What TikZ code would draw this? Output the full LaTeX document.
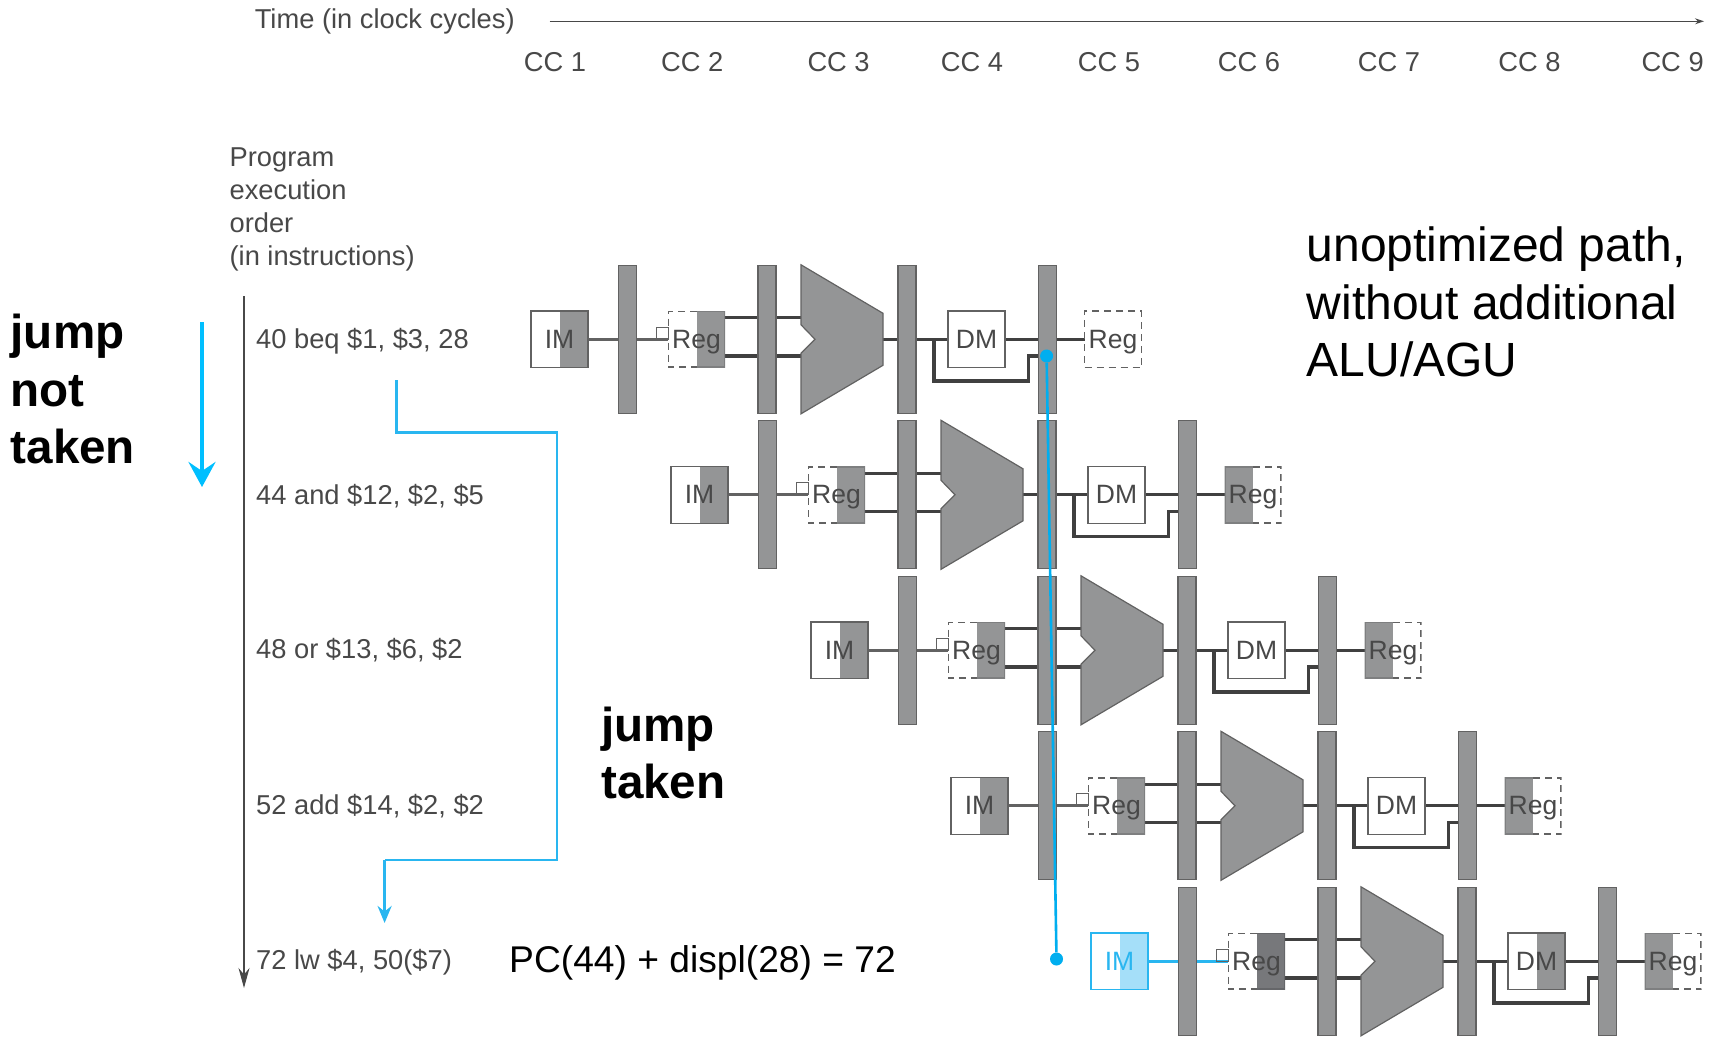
\documentclass[tikz,border=0pt]{standalone}
\usepackage{fontspec}
\setmainfont{Liberation Sans}
\usetikzlibrary{positioning,arrows.meta,backgrounds}
\definecolor{ink}{HTML}{484848}
\definecolor{wireink}{HTML}{404040}
\definecolor{barfill}{HTML}{949596}
\definecolor{regdark}{HTML}{77787B}
\definecolor{edge}{HTML}{626262}
\definecolor{pathblue}{HTML}{29B6F0}
\definecolor{lightblue}{HTML}{A5DFF9}
\definecolor{dotblue}{HTML}{00AEEF}
\definecolor{arrowblue}{HTML}{00BFFF}

\begin{document}
\begin{tikzpicture}[
  x=1pt, y=-1pt,
  label/.style={anchor=west, inner sep=0pt, font=\fontsize{27.3}{33}\selectfont, text=ink, align=left},
  ccnum/.style={inner sep=0pt, font=\fontsize{27.3}{33}\selectfont, text=ink},
  remark/.style={anchor=west, inner sep=0pt, font=\fontsize{48}{57.4}\selectfont, align=left},
  remarkb/.style={remark, font=\fontsize{47.6}{57.4}\selectfont\bfseries},
  unitbox/.style={minimum width=57pt, minimum height=56.6pt, inner sep=0pt, outer sep=0pt, line width=1.2pt,
    font=\fontsize{26.5}{30}\selectfont, text height=19pt, text depth=1.5pt, text=ink},
  shadeeast/.style={path picture={\fill[#1] (path picture bounding box.north east) rectangle (path picture bounding box.south);}},
  solidbox/.style={unitbox, draw=edge},
  regplain/.style={unitbox, draw=edge, dash pattern=on 7pt off 5pt},
  regeast/.style={unitbox, path picture={
    \fill[#1] (path picture bounding box.north east) rectangle (path picture bounding box.south);
    \draw[draw=#1!85!black, line width=2.4pt] (path picture bounding box.north) -| (path picture bounding box.south east) -- (path picture bounding box.south);
    \draw[draw=edge, line width=2.4pt, dash pattern=on 7pt off 5pt] (path picture bounding box.north) -| (path picture bounding box.south west) -- (path picture bounding box.south);}},
  regwest/.style={unitbox, path picture={
    \fill[barfill] (path picture bounding box.north west) rectangle (path picture bounding box.south);
    \draw[draw=barfill!85!black, line width=2.4pt] (path picture bounding box.north) -| (path picture bounding box.south west) -- (path picture bounding box.south);
    \draw[draw=edge, line width=2.4pt, dash pattern=on 7pt off 5pt] (path picture bounding box.north) -| (path picture bounding box.south east) -- (path picture bounding box.south);}},
  latch/.style={draw=edge, fill=barfill, line width=1.2pt, minimum width=18pt, minimum height=148pt, inner sep=0pt, outer sep=0pt},
  portbox/.style={draw=edge, line width=1pt, minimum size=12pt, inner sep=0pt, outer sep=0pt, anchor=south east},
  alu/.style={draw=edge, fill=barfill, line width=1.2pt},
  wire/.style={draw=wireink, line width=3.2pt},
  jumpline/.style={draw=pathblue, line width=2.8pt},
  dot/.style={circle, fill=dotblue, minimum size=13pt, inner sep=0pt}
]
\useasboundingbox (0,0) rectangle (1713,1036);

% Time axis
\node[label] (time) at (254.6,21.5) {Time (in clock cycles)};
\coordinate (timeA) at (549.5,21.3);
\coordinate (timeB) at (1704,21.3);
\draw[-{Stealth[length=9pt,width=6pt]}, draw=ink, line width=1.2pt] (timeA) -- (timeB);
\node[ccnum] (CC1) at (555,62) {CC 1};
\node[ccnum] (CC2) at (692.2,62) {CC 2};
\node[ccnum] (CC3) at (838.6,62) {CC 3};
\node[ccnum] (CC4) at (972,62) {CC 4};
\node[ccnum] (CC5) at (1109,62) {CC 5};
\node[ccnum] (CC6) at (1249,62) {CC 6};
\node[ccnum] (CC7) at (1389,62) {CC 7};
\node[ccnum] (CC8) at (1529.5,62) {CC 8};
\node[ccnum] (CC9) at (1672.6,62) {CC 9};

% Program order axis
\node[label] (order) at (229.4,209.5) {Program\\execution\\order\\(in instructions)};
\coordinate (orderA) at (244,296);
\coordinate (orderB) at (244,988);
\draw[-{Stealth[length=20pt,width=11pt]}, draw=ink, line width=1.2pt] (orderA) -- (orderB);
\node[label] (I1) at (256,341.3) {40 beq \$1, \$3, 28};
\node[label] (I2) at (256,496) {44 and \$12, \$2, \$5};
\node[label] (I3) at (256,650) {48 or \$13, \$6, \$2};
\node[label] (I4) at (256,806) {52 add \$14, \$2, \$2};
\node[label] (I5) at (256,962.5) {72 lw \$4, 50(\$7)};

% Pipeline rows
\foreach \i/\imline/\imshade/\imtext/\regshade/\dmshade/\wbstyle in {
  0/edge/barfill/ink/barfill/white/regplain,
  1/edge/barfill/ink/barfill/white/regwest,
  2/edge/barfill/ink/barfill/white/regwest,
  3/edge/barfill/ink/barfill/white/regwest,
  4/pathblue/lightblue/pathblue/regdark/barfill/regwest} {
  \node[solidbox, draw=\imline, text=\imtext, shadeeast=\imshade] (IM\i) at (559.5+\i*140,339.3+\i*155.5) {IM};
  \node[latch, right=30.5pt of IM\i] (BA\i) {};
  \node[regeast=\regshade, right=31.5pt of BA\i] (RG\i) {Reg};
  \node[portbox] (PT\i) at (RG\i.west) {};
  \node[latch, right=33pt of RG\i] (BB\i) {};
  \coordinate[right=25pt of BB\i] (AL\i);
  \coordinate[right=82pt of AL\i] (AR\i);
  \draw[alu] (AL\i) ++(0,-74.5) -- ++(82,48.5) -- ++(0,52) -- ++(-82,48.5) -- ++(0,-60.5)
    -- ++(14,-14) -- ++(-14,-14.5) -- cycle;
  \node[latch, right=15pt of AR\i] (BC\i) {};
  \node[solidbox, right=32pt of BC\i, shadeeast=\dmshade] (DM\i) {DM};
  \node[latch, right=33.5pt of DM\i] (BD\i) {};
  \node[\wbstyle, right=28pt of BD\i] (WB\i) {Reg};
  \begin{scope}[on background layer]
    \draw[wire, draw=\imline] (IM\i) -- (BA\i);
    \draw[wire, draw=\imline] (BA\i) -- (RG\i.west);
    \draw[wire] ([yshift=21.7pt]RG\i.east) -- ([yshift=21.7pt]AL\i);
    \draw[wire] ([yshift=-16.7pt]RG\i.east) -- ([yshift=-16.7pt]AL\i);
    \draw[wire] (AR\i) -- (BC\i);
    \draw[wire] (BC\i) -- (DM\i);
    \draw[wire] (DM\i) -- (BD\i);
    \draw[wire] (BD\i) -- (WB\i);
    \coordinate[right=18pt of BC\i] (TP\i);
    \coordinate (BK\i) at ([yshift=-16.7pt]BD\i.center);
    \draw[wire] (TP\i) -- ++(0,41.7) -- ++(94.5,0) |- (BK\i);
  \end{scope}
}

% Jump not taken
\node[remarkb] (notTaken) at (10.5,389) {jump\\not\\taken};
\coordinate (notA) at (202,322);
\coordinate (notB) at (202,487);
\draw[-{Stealth[length=25pt,width=27pt,inset=9pt]}, draw=arrowblue, line width=4.5pt] (notA) -- (notB);

% Jump taken
\node[remarkb] (taken) at (601,753) {jump\\taken};
\coordinate (jumpA) at (396.6,380);
\coordinate (jumpB) at (557,432.6);
\coordinate (jumpC) at (384.6,860);
\coordinate (jumpD) at (384.6,923);
\draw[jumpline] (jumpA) |- (jumpB) |- (jumpC);
\draw[jumpline, -{Stealth[length=17pt,width=14pt]}] (jumpC) -- (jumpD);

% Remarks
\node[remark] (unopt) at (1306.6,302.2) {unoptimized path,\\without additional\\ALU/AGU};
\node[remark, font=\fontsize{37.2}{44}\selectfont] (target) at (509,963) {PC(44) + displ(28) = 72};

% Forwarded fetch
\node[dot] (dotA) at (1046.6,356) {};
\node[dot] (dotB) at (1056.5,959) {};
\draw[draw=dotblue, line width=2.6pt] (dotA) -- (dotB);
\end{tikzpicture}
\end{document}
